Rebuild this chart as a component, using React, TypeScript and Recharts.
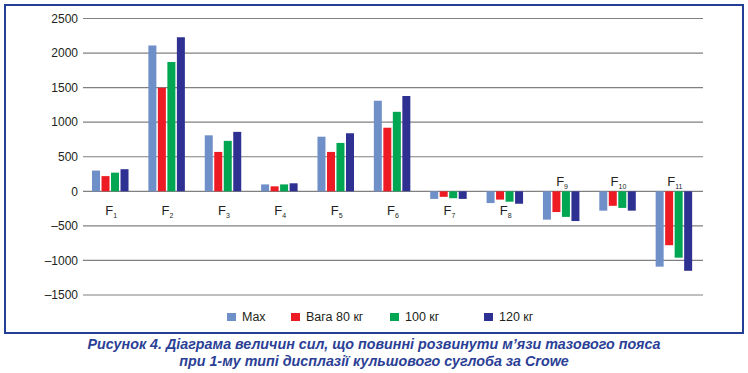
import { BarChart, Bar, XAxis, YAxis, CartesianGrid, ReferenceDot } from 'recharts'

const categories = ['1', '2', '3', '4', '5', '6', '7', '8', '9', '10', '11']
const maxValues = [300, 2110, 810, 100, 790, 1310, -110, -170, -410, -280, -1090]
const w80Values = [220, 1500, 570, 72, 570, 920, -80, -120, -300, -210, -780]
const w100Values = [270, 1870, 730, 100, 700, 1150, -100, -150, -370, -240, -960]
const w120Values = [320, 2230, 860, 116, 840, 1380, -110, -180, -430, -280, -1150]
const yTicks = [-1500, -1000, -500, 0, 500, 1000, 1500, 2000, 2500]

const series = [
  { key: 'max', name: 'Max', color: '#6f8fc9', values: maxValues },
  { key: 'w80', name: 'Вага 80 кг', color: '#ed1c24', values: w80Values },
  { key: 'w100', name: '100 кг', color: '#00a651', values: w100Values },
  { key: 'w120', name: '120 кг', color: '#2e3192', values: w120Values },
]

const data = categories.map((c, i) => {
  const row: Record<string, any> = { cat: 'F' + c }
  series.forEach(s => { row[s.key] = s.values[i] })
  return row
})

const FONT = '"Liberation Sans", Arial, sans-serif'
const legendWidths = [64, 99, 94, 60]

function CatLabel({ viewBox, sub, above }: any) {
  if (!viewBox) return null
  const x = viewBox.x + (viewBox.width || 0) / 2
  const y = viewBox.y + (viewBox.height || 0) / 2
  return (
    <text x={x} y={above ? y - 5 : y + 24} textAnchor="middle" fill="#231f20" fontFamily={FONT} fontSize={13}>
      <tspan>F</tspan>
      <tspan fontSize={7} dy={3}>{sub}</tspan>
    </text>
  )
}

export default function App() {
  return (
    <div style={{ position: 'absolute', left: 0, top: 0, width: 748, height: 373, background: '#fff', fontFamily: FONT }}>
      <div style={{
        position: 'absolute', left: 4, top: 4, width: 740, height: 330, boxSizing: 'border-box',
        border: '2.5px solid #243f96',
      }} />
      <div style={{ position: 'absolute', left: 0, top: 0 }}>
        <BarChart
          width={748} height={308} data={data}
          margin={{ top: 18.5, right: 45, bottom: 13, left: 8 }}
          barCategoryGap="16%" barGap={1.5}
        >
          <CartesianGrid horizontal vertical={false} stroke="#808080" strokeWidth={1.2} />
          <XAxis dataKey="cat" hide />
          <YAxis
            width={75} domain={[-1500, 2500]} ticks={yTicks} interval={0}
            axisLine={false} tickLine={false} tickSize={3} tickMargin={2}
            tick={{ fill: '#231f20', fontSize: 12, fontFamily: FONT }}
            tickFormatter={(v: number) => (v < 0 ? `–${Math.abs(v)}` : `${v}`)}
          />
          {series.map(s => (
            <Bar key={s.key} dataKey={s.key} name={s.name} fill={s.color} isAnimationActive={false} />
          ))}
          {categories.map((c, i) => (
            <ReferenceDot
              key={c} x={'F' + c} y={0} r={0} fill="none" stroke="none"
              label={<CatLabel sub={c} above={i >= 8} />}
            />
          ))}
        </BarChart>
      </div>
      <div style={{ position: 'absolute', left: 227, top: 310, display: 'flex', alignItems: 'center' }}>
        {series.map((s, i) => (
          <div key={s.key} style={{ width: legendWidths[i], display: 'flex', alignItems: 'center', fontSize: 12.5, color: '#231f20' }}>
            <span style={{ display: 'inline-block', width: 9, height: 8, background: s.color, marginRight: 6 }} />
            <span>{s.name}</span>
          </div>
        ))}
      </div>
      <div style={{
        position: 'absolute', left: 0, top: 336, width: 748, textAlign: 'center',
        color: '#2b3f96', fontWeight: 'bold', fontStyle: 'italic', fontSize: 14.3, lineHeight: '17px',
      }}>
        Рисунок 4. Діаграма величин сил, що повинні розвинути м’язи тазового пояса<br />
        при 1-му типі дисплазії кульшового суглоба за Crowe
      </div>
    </div>
  )
}
